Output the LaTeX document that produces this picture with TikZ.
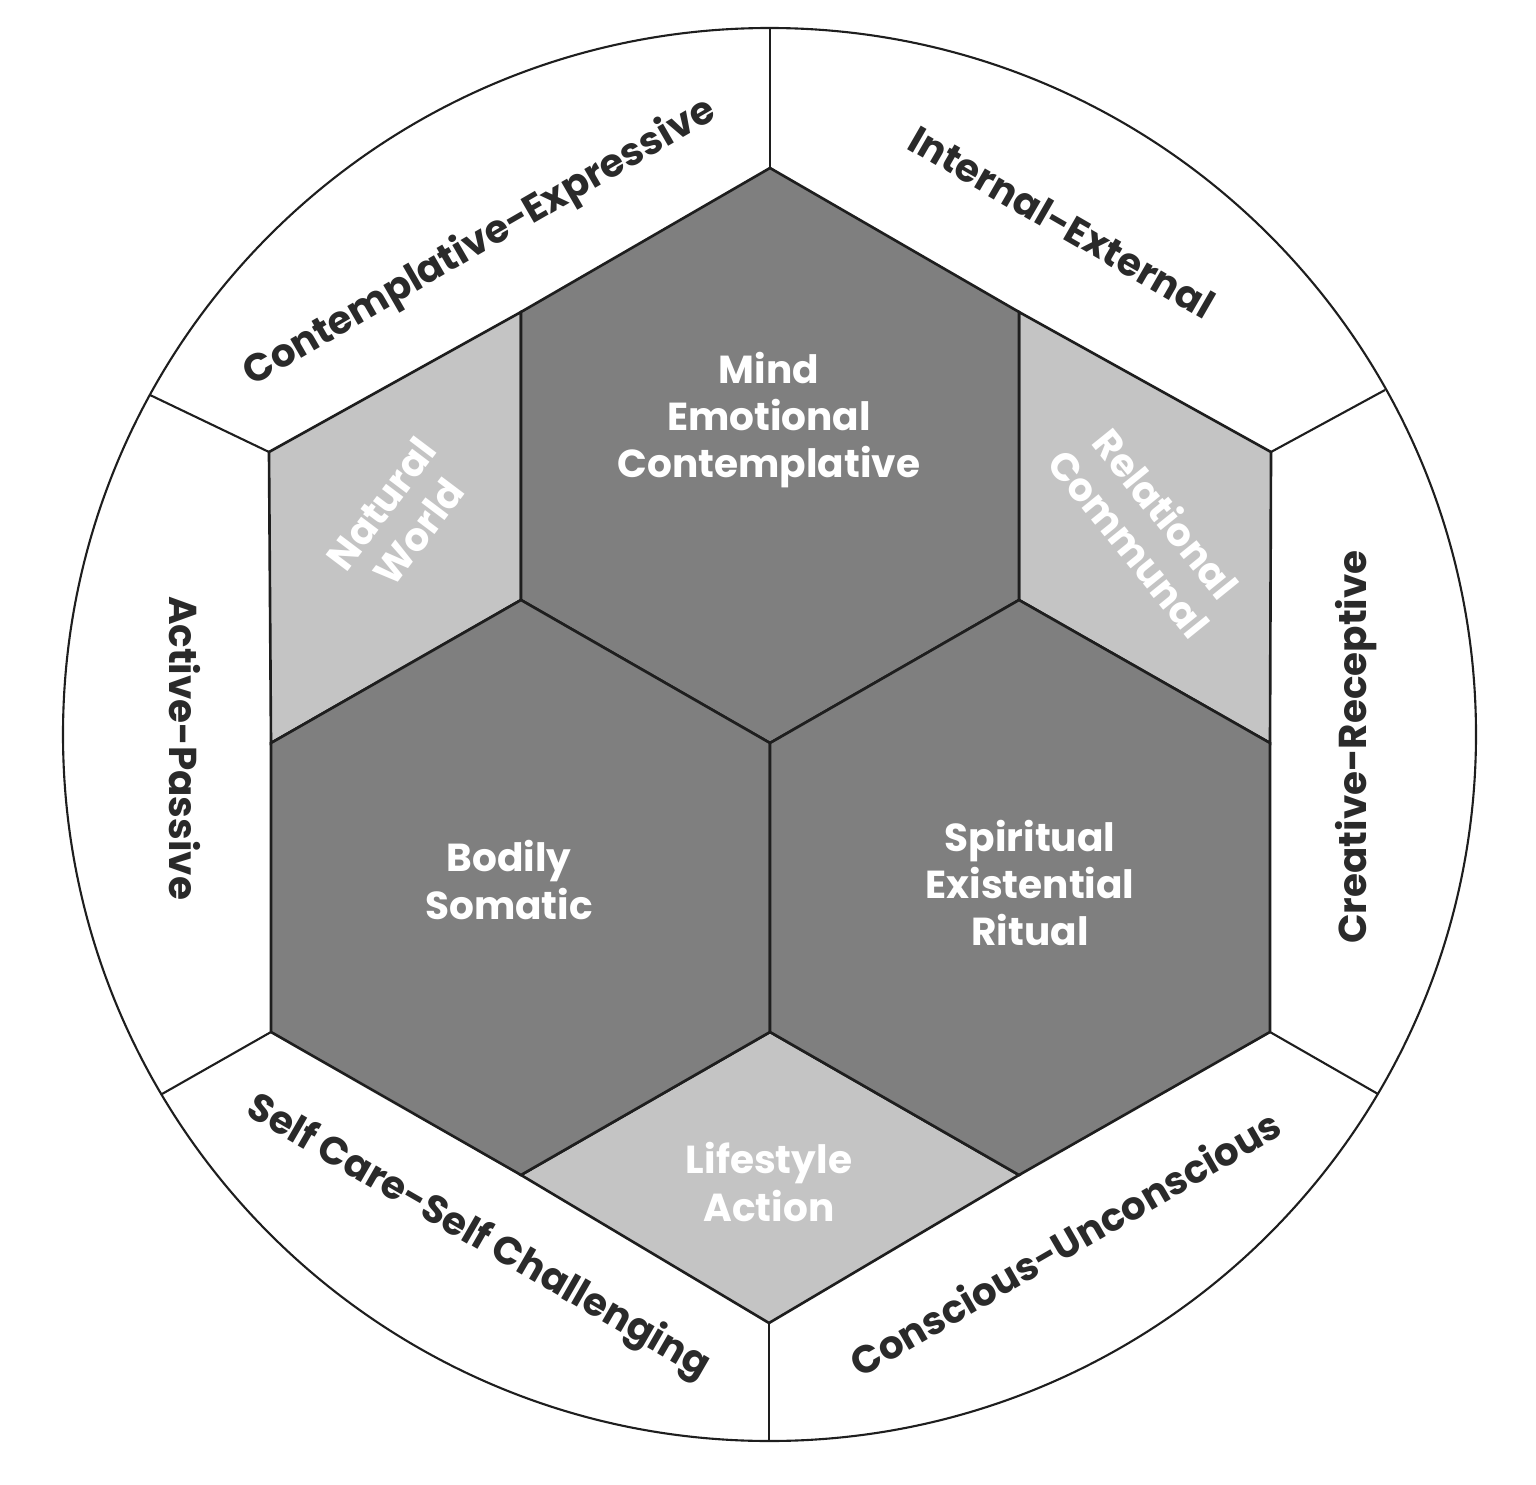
\documentclass[tikz,border=0pt]{standalone}
\usepackage{fontspec}
\setmainfont{Poppins}[BoldFont={Poppins Bold}]

\definecolor{hexDark}{HTML}{7F7F7F}
\definecolor{hexLight}{HTML}{C4C4C4}
\definecolor{lineDark}{HTML}{1E1E1E}
\definecolor{textDark}{HTML}{2A2A2A}

\begin{document}
\begin{tikzpicture}[x=0.01cm, y=-0.01cm]
  \tikzstyle{cell} = [draw=lineDark, line width=0.75pt, line join=miter]
  \tikzstyle{darkCell} = [cell, fill=hexDark]
  \tikzstyle{lightCell} = [cell, fill=hexLight]
  \tikzstyle{spoke} = [draw=lineDark, line width=0.6pt]

  \tikzstyle{cellLabel} = [text=white, align=center, inner sep=0pt, font={\fontsize{11.1}{13.4}\selectfont\bfseries}]
  \tikzstyle{ringLabel} = [text=textDark, inner sep=0pt, font={\fontsize{11.05}{12}\selectfont\bfseries}]

  \useasboundingbox (0,0) rectangle (1536,1485);

  % outer ring
  \draw[spoke] (769.5,734.5) circle (706.5);

  % hexagon corners and inner points
  \coordinate (T)  at (770,168);
  \coordinate (UR) at (1271,452);
  \coordinate (LR) at (1270,1032);
  \coordinate (B)  at (769,1323);
  \coordinate (LL) at (271,1032);
  \coordinate (UL) at (269,452);
  \coordinate (C)  at (770,743);
  \coordinate (M)  at (770,1032);
  \coordinate (a)  at (521,312);
  \coordinate (b)  at (1019,312);
  \coordinate (c)  at (1019,600);
  \coordinate (d)  at (521,600);
  \coordinate (e)  at (271,743);
  \coordinate (f)  at (1270,743);
  \coordinate (g)  at (521,1175);
  \coordinate (h)  at (1019,1175);

  % points on the circle
  \coordinate (rT)  at (770,28);
  \coordinate (rUR) at (1385,390);
  \coordinate (rLR) at (1378,1094);
  \coordinate (rB)  at (769,1441);
  \coordinate (rLL) at (162,1094);
  \coordinate (rUL) at (150,395);

  % spokes
  \draw[spoke] (T) -- (rT);
  \draw[spoke] (UR) -- (rUR);
  \draw[spoke] (LR) -- (rLR);
  \draw[spoke] (B) -- (rB);
  \draw[spoke] (LL) -- (rLL);
  \draw[spoke] (UL) -- (rUL);

  % light cells
  \draw[lightCell] (UL) -- (a) -- (d) -- (e) -- cycle;
  \draw[lightCell] (b) -- (UR) -- (f) -- (c) -- cycle;
  \draw[lightCell] (g) -- (M) -- (h) -- (B) -- cycle;

  % dark hexagons
  \draw[darkCell] (T) -- (b) -- (c) -- (C) -- (d) -- (a) -- cycle;
  \draw[darkCell] (d) -- (C) -- (M) -- (g) -- (LL) -- (e) -- cycle;
  \draw[darkCell] (c) -- (f) -- (LR) -- (h) -- (M) -- (C) -- cycle;

  % cell labels
  \node[cellLabel] (mind)      at (769,420)  {Mind\\Emotional\\Contemplative};
  \node[cellLabel] (bodily)    at (509,880)  {Bodily\\Somatic};
  \node[cellLabel] (spiritual) at (1030,883) {Spiritual\\Existential\\Ritual};
  \node[cellLabel] (lifestyle) at (769,1182) {Lifestyle\\Action};
  \node[cellLabel, rotate=53]  (natural)    at (400,518) {Natural\\World};
  \node[cellLabel, rotate=-51] (relational) at (1148,528) {Relational\\Communal};

  % ring labels
  \node[ringLabel, rotate=30]  (contExpr)  at (480,243)  {Contemplative-Expressive};
  \node[ringLabel, rotate=-30] (intExt)    at (1062,222) {Internal-External};
  \node[ringLabel, rotate=90]  (creaRec)   at (1356,747) {Creative-Receptive};
  \node[ringLabel, rotate=30]  (consUnc)   at (1065,1243) {Conscious-Unconscious};
  \node[ringLabel, rotate=-30] (selfCare)  at (478,1238) {Self Care-Self Challenging};
  \node[ringLabel, rotate=-90] (actPass)   at (185,748)  {Active-Passive};
\end{tikzpicture}
\end{document}
